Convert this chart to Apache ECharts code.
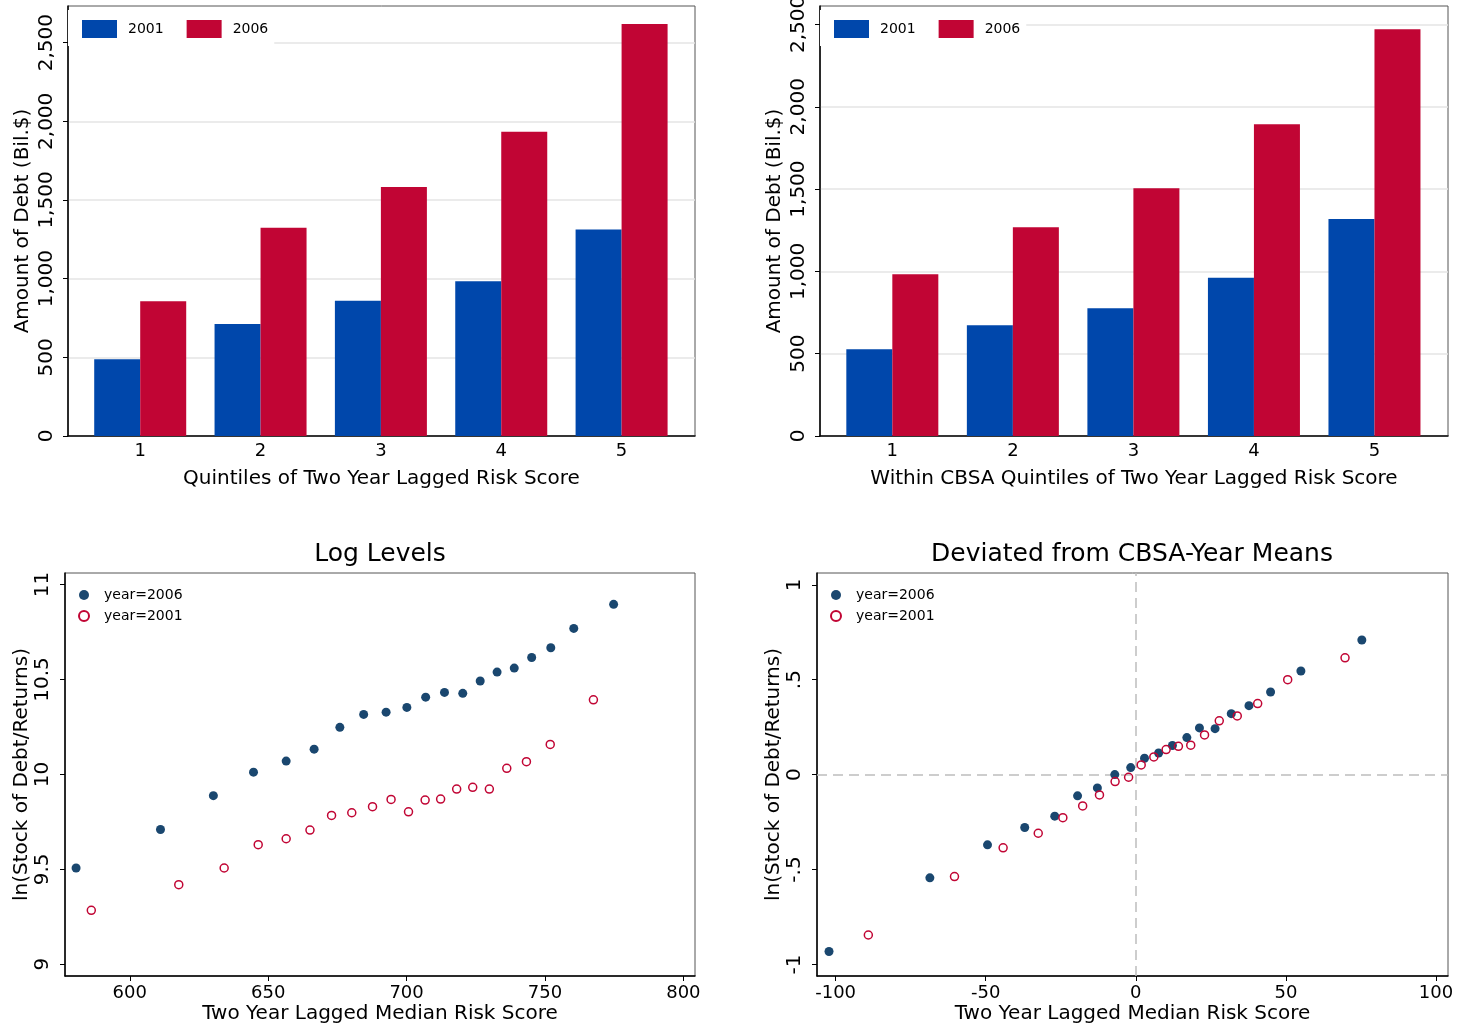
<!DOCTYPE html>
<html><head><meta charset="utf-8">
<script src="https://cdn.jsdelivr.net/npm/echarts@6/dist/echarts.min.js"></script>
<style>html,body{margin:0;padding:0;background:#fff}#c{width:1459px;height:1029px}</style>
</head><body><div id="c"></div>
<script>
// ---------- data ----------
const quintiles = [1, 2, 3, 4, 5];
const debtAll2001 = [488, 712, 859, 984, 1313];
const debtAll2006 = [857, 1323, 1582, 1934, 2619];
const debtCbsa2001 = [527, 672, 776, 962, 1318];
const debtCbsa2006 = [982, 1268, 1505, 1894, 2471];
const debtTicks = [0, 500, 1000, 1500, 2000, 2500];

const lvlRisk2006 = [580.6, 611.1, 630.2, 644.7, 656.5, 666.6, 675.9, 684.5, 692.6, 700.1, 706.9, 713.7, 720.3, 726.6, 732.7, 738.9, 745.2, 752.1, 760.4, 774.8];
const lvlLog2006  = [9.507, 9.710, 9.888, 10.012, 10.070, 10.133, 10.248, 10.316, 10.328, 10.353, 10.407, 10.432, 10.427, 10.492, 10.539, 10.560, 10.616, 10.667, 10.769, 10.896];
const lvlRisk2001 = [586.1, 617.7, 634.1, 646.4, 656.5, 665.1, 672.9, 680.2, 687.7, 694.4, 700.7, 706.7, 712.3, 718.1, 723.9, 729.9, 736.2, 743.3, 751.9, 767.5];
const lvlLog2001  = [9.284, 9.419, 9.507, 9.630, 9.661, 9.707, 9.784, 9.798, 9.830, 9.868, 9.803, 9.865, 9.870, 9.923, 9.932, 9.923, 10.032, 10.067, 10.158, 10.393];
const lvlXTicks = [600, 650, 700, 750, 800];
const lvlYTicks = [9, 9.5, 10, 10.5, 11];

const devRisk2006 = [-102.2, -68.6, -49.4, -37.0, -27.0, -19.4, -12.8, -7.0, -1.7, 2.9, 7.6, 12.2, 17.0, 21.2, 26.4, 31.8, 37.7, 44.9, 55.0, 75.3];
const devLog2006  = [-0.932, -0.544, -0.370, -0.279, -0.219, -0.112, -0.070, 0.000, 0.037, 0.086, 0.114, 0.153, 0.195, 0.246, 0.242, 0.321, 0.363, 0.435, 0.546, 0.709];
const devRisk2001 = [-89.1, -60.4, -44.2, -32.5, -24.3, -17.7, -12.1, -6.9, -2.4, 1.8, 6.0, 10.1, 14.2, 18.3, 22.9, 27.8, 33.8, 40.6, 50.6, 69.7];
const devLog2001  = [-0.845, -0.537, -0.386, -0.309, -0.227, -0.165, -0.107, -0.037, -0.014, 0.051, 0.093, 0.132, 0.149, 0.155, 0.209, 0.283, 0.309, 0.374, 0.500, 0.615];
const devXTicks = [-100, -50, 0, 50, 100];
const devYTicks = [-1, -0.5, 0, 0.5, 1];
const devYTickLabels = ['-1', '-.5', '0', '.5', '1'];

// ---------- styling ----------
const FONT = 'DejaVu Sans';
const BLUE = '#0047ab', RED = '#c10534', NAVY = '#1a476f';
const zip = (a, b) => a.map((v, i) => [v, b[i]]);

function frameGrid(left, top, width, height) {
  return { left, top, width, height, show: true, borderColor: '#555', borderWidth: 1,
    backgroundColor: '#fff', containLabel: false, outerBoundsMode: 'none' };
}
function axisLineStyle() { return { show: true, onZero: false, lineStyle: { color: '#000', width: 1.5 } }; }

function barX(idx, name) {
  return {
    type: 'value', gridIndex: idx, min: 0.4, max: 5.61,
    axisLine: axisLineStyle(), axisTick: { show: false }, splitLine: { show: false },
    axisLabel: { customValues: quintiles, fontSize: 18, color: '#000', fontFamily: FONT, margin: 6 },
    name, nameLocation: 'middle', nameGap: 33,
    nameTextStyle: { fontSize: 20, color: '#000', fontFamily: FONT }
  };
}
function barY(idx, max) {
  return {
    type: 'value', gridIndex: idx, min: 0, max, interval: 500,
    axisLine: axisLineStyle(),
    axisTick: { show: true, length: 5, customValues: debtTicks, lineStyle: { color: '#000', width: 1 } },
    axisLabel: { customValues: debtTicks, rotate: 90, fontSize: 20, color: '#000', fontFamily: FONT, margin: 11,
      formatter: v => Number(v).toLocaleString('en-US') },
    splitLine: { show: true, lineStyle: { color: '#e4e4e4', width: 1.5 } },
    name: 'Amount of Debt (Bil.$)', nameLocation: 'middle', nameGap: 35,
    nameTextStyle: { fontSize: 20, color: '#000', fontFamily: FONT }
  };
}
function scX(idx, min, max, ticks, name) {
  return {
    type: 'value', gridIndex: idx, min, max,
    axisLine: axisLineStyle(),
    axisTick: { show: true, length: 5, customValues: ticks, lineStyle: { color: '#000', width: 1 } },
    axisLabel: { customValues: ticks, fontSize: 18, color: '#000', fontFamily: FONT, margin: 8 },
    splitLine: { show: false },
    name, nameLocation: 'middle', nameGap: 28,
    nameTextStyle: { fontSize: 20, color: '#000', fontFamily: FONT }
  };
}
function scY(idx, min, max, ticks, labels, gap) {
  return {
    type: 'value', gridIndex: idx, min, max,
    axisLine: axisLineStyle(),
    axisTick: { show: true, length: 5, customValues: ticks, lineStyle: { color: '#000', width: 1 } },
    axisLabel: { customValues: ticks, rotate: 90, fontSize: 20, color: '#000', fontFamily: FONT, margin: 12,
      formatter: v => { const i = ticks.indexOf(Number(v)); return i >= 0 ? labels[i] : ''; } },
    splitLine: { show: false },
    name: 'ln(Stock of Debt/Returns)', nameLocation: 'middle', nameGap: gap,
    nameTextStyle: { fontSize: 20, color: '#000', fontFamily: FONT }
  };
}
function barLegend(left) {
  return {
    left, top: 10, padding: [10, 6, 8, 14], backgroundColor: '#fff',
    itemWidth: 35, itemHeight: 18, itemGap: 23, icon: 'rect',
    data: ['2001', '2006'],
    textStyle: { fontSize: 14, color: '#000', fontFamily: FONT, padding: [0, 0, 0, 6] }
  };
}
function scLegend(left) {
  return {
    left, top: 576, orient: 'vertical', padding: [12, 6, 6, 13],
    itemWidth: 10, itemHeight: 10, itemGap: 7,
    data: ['year=2006', 'year=2001'],
    textStyle: { fontSize: 14, color: '#000', fontFamily: FONT, padding: [0, 0, 0, 10] }
  };
}

const option = {
  animation: false,
  backgroundColor: '#fff',
  textStyle: { fontFamily: FONT },
  title: [
    { text: 'Log Levels', left: 380, top: 542, textAlign: 'center', padding: 0,
      textStyle: { fontSize: 25, fontWeight: 'normal', color: '#000', fontFamily: FONT } },
    { text: 'Deviated from CBSA-Year Means', left: 1132, top: 542, textAlign: 'center', padding: 0,
      textStyle: { fontSize: 25, fontWeight: 'normal', color: '#000', fontFamily: FONT } }
  ],
  legend: [barLegend(68), barLegend(820), scLegend(65), scLegend(817)],
  grid: [
    frameGrid(68, 6, 627, 430),
    frameGrid(820, 6, 628, 430),
    frameGrid(65, 573, 630, 403),
    frameGrid(817, 573, 631, 403)
  ],
  xAxis: [
    barX(0, 'Quintiles of Two Year Lagged Risk Score'),
    barX(1, 'Within CBSA Quintiles of Two Year Lagged Risk Score'),
    scX(2, 576.6, 804.2, lvlXTicks, 'Two Year Lagged Median Risk Score'),
    scX(3, -106.2, 104.0, devXTicks, 'Two Year Lagged Median Risk Score')
  ],
  yAxis: [
    barY(0, 2733),
    barY(1, 2612),
    scY(2, 8.938, 11.061, lvlYTicks, lvlYTicks.map(String), 33),
    scY(3, -1.061, 1.062, devYTicks, devYTickLabels, 32)
  ],
  series: [
    { type: 'bar', name: '2001', xAxisIndex: 0, yAxisIndex: 0, barWidth: 46, barGap: '0%',
      data: zip(quintiles, debtAll2001), itemStyle: { color: BLUE } },
    { type: 'bar', name: '2006', xAxisIndex: 0, yAxisIndex: 0, barWidth: 46, barGap: '0%',
      data: zip(quintiles, debtAll2006), itemStyle: { color: RED } },
    { type: 'bar', name: '2001', xAxisIndex: 1, yAxisIndex: 1, barWidth: 46, barGap: '0%',
      data: zip(quintiles, debtCbsa2001), itemStyle: { color: BLUE } },
    { type: 'bar', name: '2006', xAxisIndex: 1, yAxisIndex: 1, barWidth: 46, barGap: '0%',
      data: zip(quintiles, debtCbsa2006), itemStyle: { color: RED } },
    { type: 'scatter', name: 'year=2006', xAxisIndex: 2, yAxisIndex: 2, symbol: 'circle', symbolSize: 9,
      data: zip(lvlRisk2006, lvlLog2006), itemStyle: { color: NAVY, opacity: 1 } },
    { type: 'scatter', name: 'year=2001', xAxisIndex: 2, yAxisIndex: 2, symbol: 'circle', symbolSize: 8,
      data: zip(lvlRisk2001, lvlLog2001), itemStyle: { color: 'rgba(255,255,255,0)', borderColor: RED, borderWidth: 1.5, opacity: 1 } },
    { type: 'scatter', name: 'year=2006', xAxisIndex: 3, yAxisIndex: 3, symbol: 'circle', symbolSize: 9,
      data: zip(devRisk2006, devLog2006), itemStyle: { color: NAVY, opacity: 1 }, z: 3,
      markLine: { silent: true, symbol: 'none', label: { show: false }, z: 1,
        lineStyle: { color: '#bdbdbd', type: [10, 6], width: 1.5 },
        data: [{ xAxis: 0 }, { yAxis: 0 }] } },
    { type: 'scatter', name: 'year=2001', xAxisIndex: 3, yAxisIndex: 3, symbol: 'circle', symbolSize: 8, z: 4,
      data: zip(devRisk2001, devLog2001), itemStyle: { color: 'rgba(255,255,255,0)', borderColor: RED, borderWidth: 1.5, opacity: 1 } }
  ]
};
echarts.init(document.getElementById('c'), null, { renderer: 'canvas' }).setOption(option);
</script>
</body></html>
